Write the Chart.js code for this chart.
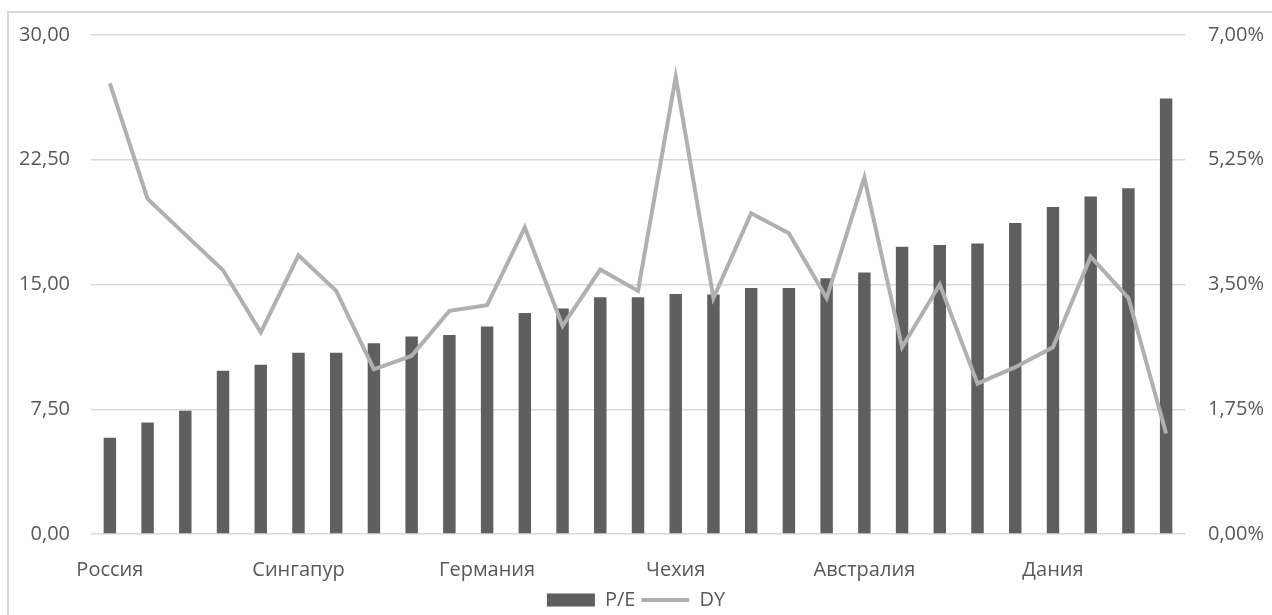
<!DOCTYPE html>
<html>
<head>
<meta charset="utf-8">
<script src="https://cdn.jsdelivr.net/npm/chart.js@4"></script>
<style>
  html, body { margin: 0; padding: 0; background: #fff; overflow: hidden; }
  #wrap { position: relative; width: 1272px; height: 615px; }
  #frame { position: absolute; left: 7px; top: 11px; width: 1300px; height: 700px; border: 2px solid #d9d9d9; box-sizing: border-box; }
  canvas { position: absolute; left: 0; top: 0; }
</style>
</head>
<body>
<div id="wrap">
  <div id="frame"></div>
  <canvas id="peChart" width="1272" height="615"></canvas>
</div>
<script>
// --- Data ---
const countries = ['Россия', '', '', '', '', 'Сингапур', '', '', '', '', 'Германия', '', '', '', '', 'Чехия', '', '', '', '', 'Австралия', '', '', '', '', 'Дания', '', '', ''];
const peValues = [5.78, 6.70, 7.41, 9.82, 10.18, 10.89, 10.89, 11.47, 11.87, 11.97, 12.48, 13.28, 13.55, 14.23, 14.23, 14.43, 14.40, 14.79, 14.79, 15.38, 15.72, 17.27, 17.37, 17.47, 18.70, 19.66, 20.29, 20.79, 26.18];
const dyValues = [6.32, 4.70, 4.20, 3.70, 2.83, 3.91, 3.41, 2.31, 2.50, 3.13, 3.21, 4.30, 2.92, 3.71, 3.41, 6.41, 3.31, 4.50, 4.22, 3.31, 5.00, 2.62, 3.50, 2.11, 2.34, 2.62, 3.89, 3.31, 1.41];
const peTicks = [0, 7.5, 15, 22.5, 30];
const dyTicks = [0, 1.75, 3.5, 5.25, 7];

// --- Helpers ---
const textColor = '#595959';
const font = { family: "'Open Sans', 'Liberation Sans', sans-serif", size: 20 };
const fmt = (v) => v.toFixed(2).replace('.', ',');

document.addEventListener('DOMContentLoaded', () => {
    const ctx = document.getElementById('peChart').getContext('2d');
    new Chart(ctx, {
        type: 'bar',
        data: {
            labels: countries,
            datasets: [{
                label: 'P/E',
                data: peValues,
                backgroundColor: '#5f5f5f',
                borderWidth: 0,
                barPercentage: 0.33,
                categoryPercentage: 1,
                yAxisID: 'y',
                order: 1
            }, {
                type: 'line',
                label: 'DY',
                data: dyValues,
                borderColor: '#b0b0b0',
                backgroundColor: '#b0b0b0',
                borderWidth: 4,
                pointRadius: 0,
                tension: 0,
                yAxisID: 'y2',
                order: 0
            }]
        },
        options: {
            responsive: false,
            animation: false,
            layout: { padding: { top: 35, left: 0, right: 0, bottom: -5 } },
            scales: {
                x: {
                    grid: { display: false, drawTicks: false },
                    border: { display: false },
                    ticks: { autoSkip: false, maxRotation: 0, padding: 24, color: textColor, font: font },
                    afterFit: (s) => { s.height = 50; }
                },
                y: {
                    position: 'left',
                    min: 0, max: 30,
                    afterBuildTicks: (s) => { s.ticks = peTicks.map(v => ({ value: v })); },
                    grid: { color: '#d9d9d9', lineWidth: 1.5, drawTicks: false },
                    border: { display: false },
                    ticks: { padding: 21, color: textColor, font: font, callback: (v) => fmt(v) },
                    afterFit: (s) => { s.width = 91; }
                },
                y2: {
                    position: 'right',
                    min: 0, max: 7,
                    afterBuildTicks: (s) => { s.ticks = dyTicks.map(v => ({ value: v })); },
                    grid: { display: false, drawTicks: false },
                    border: { display: false },
                    ticks: { padding: 23, color: textColor, font: font, callback: (v) => fmt(v) + '%' },
                    afterFit: (s) => { s.width = 87; }
                }
            },
            plugins: {
                tooltip: { enabled: false },
                legend: {
                    position: 'bottom',
                    labels: {
                        color: textColor,
                        font: font,
                        usePointStyle: true,
                        pointStyleWidth: 48,
                        boxHeight: 13,
                        padding: 6,
                        sort: (a, b) => a.datasetIndex - b.datasetIndex,
                        generateLabels: (chart) => {
                            const items = Chart.defaults.plugins.legend.labels.generateLabels(chart);
                            items.forEach(it => { it.pointStyle = it.datasetIndex === 0 ? 'rect' : 'line'; });
                            return items;
                        }
                    }
                }
            }
        }
    });
});
</script>
</body>
</html>
